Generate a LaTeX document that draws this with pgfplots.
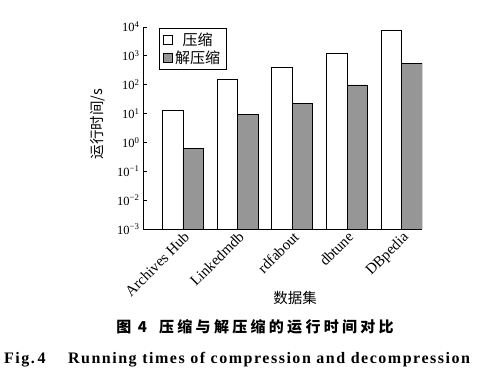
\documentclass[border=0pt]{standalone}
\usepackage{fontspec}
\setmainfont{Liberation Serif}
\newfontfamily\cjk{Noto Sans CJK SC}
\newfontfamily\cjkcap[LetterSpace=22]{Noto Sans CJK SC}
\newfontfamily\encap[LetterSpace=9.5]{Liberation Serif}
\usepackage{pgfplots}
\pgfplotsset{compat=1.18}
\definecolor{bargray}{RGB}{150,150,150}
\begin{document}
\begin{tikzpicture}[x=1pt,y=1pt]
\path[use as bounding box] (0,0) rectangle (500,385);
\begin{axis}[
  at={(143pt,156pt)}, anchor=south west,
  scale only axis, width=279pt, height=202pt,
  ymode=log, ymin=1e-3, ymax=1e4, log origin=infty,
  xmin=-0.73, xmax=4.37,
  axis lines=left, axis line style={-, line width=0.8pt},
  ybar=0pt, bar width=20.5pt,
  xtick={0,1,2,3,4},
  xticklabels={Archives Hub, Linkedmdb, rdfabout, dbtune, DBpedia},
  x tick style={draw=none},
  x tick label style={rotate=45, anchor=north east, font=\fontsize{15}{17}\selectfont, inner sep=1pt},
  ytick={1e-3,1e-2,1e-1,1,10,100,1000,10000},
  yticklabels={10\textsuperscript{−3},10\textsuperscript{−2},10\textsuperscript{−1},10\textsuperscript{0},10\textsuperscript{1},10\textsuperscript{2},10\textsuperscript{3},10\textsuperscript{4}},
  y tick label style={font=\fontsize{12.5}{14}\selectfont},
  minor y tick num=0, yminorticks=false,
  tick align=inside, major tick length=4pt,
  y tick style={black, line width=0.8pt},
  xlabel={\cjk 数据集},
  xlabel style={at={(axis description cs:0.545,-0.34)}, anchor=center, font=\fontsize{14.5}{16}\selectfont},
  ylabel={\cjk 运行时间/s},
  ylabel style={at={(axis description cs:-0.162,0.52)}, anchor=center, font=\fontsize{14.5}{16}\selectfont},
  legend style={at={(axis description cs:0.057,0.995)}, anchor=north west, draw=black, line width=0.8pt,
    font=\cjk\fontsize{15}{17}\selectfont, inner xsep=4pt, inner ysep=2.5pt, row sep=0pt},
  legend image code/.code={\draw[#1, line width=0.8pt] (0pt,-4.5pt) rectangle (9pt,4.5pt);},
]
\addplot[fill=white, draw=black, line width=0.8pt] coordinates {(0,12.7) (1,158) (2,383) (3,1190) (4,7700)};
\addplot[fill=bargray, draw=black, line width=0.8pt] coordinates {(0,0.6) (1,9.5) (2,23) (3,98) (4,555)};
\legend{压缩,解压缩}
\end{axis}
\node[font=\cjkcap\bfseries\fontsize{15}{17}\selectfont] at (255,58) {图 4\hspace{0.8em}压缩与解压缩的运行时间对比};
\node[font=\encap\bfseries\fontsize{16}{18}\selectfont, anchor=west, inner sep=0pt] at (4,25) {Fig.\,4\hspace{1.4em}Running times of compression and decompression};
\end{tikzpicture}
\end{document}
